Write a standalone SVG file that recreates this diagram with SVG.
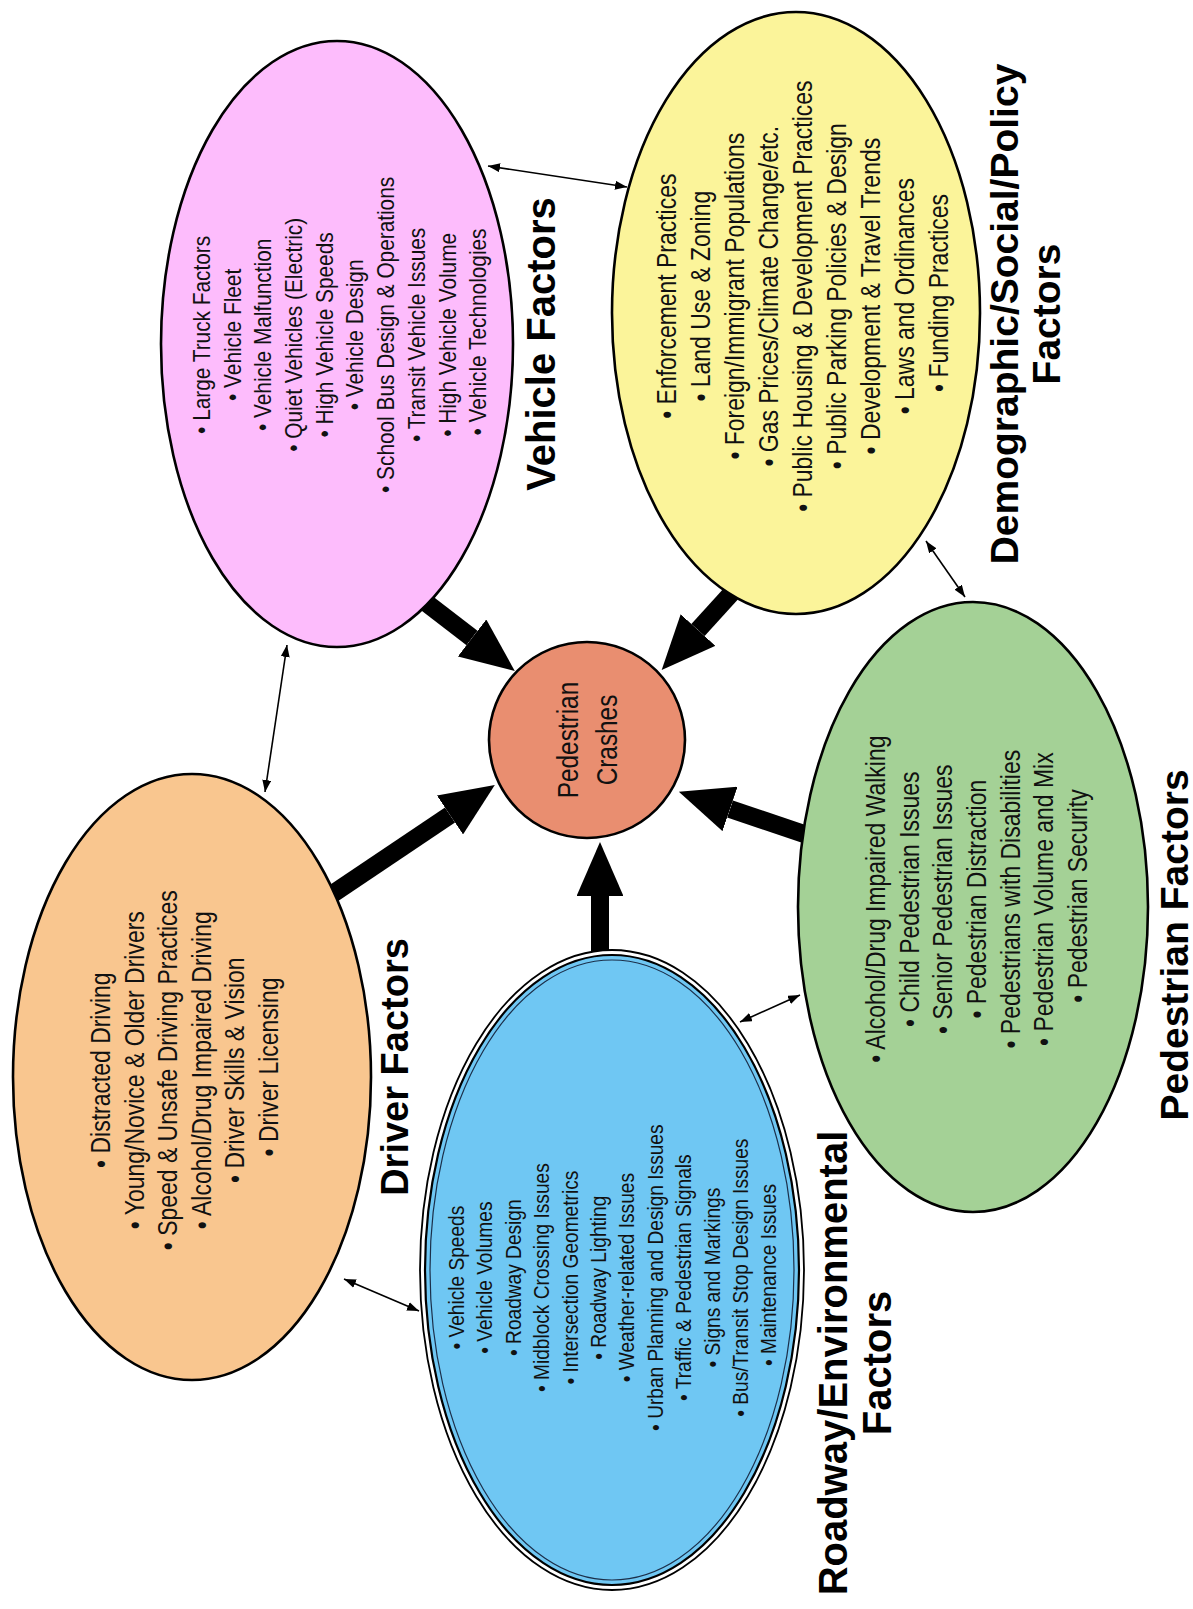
<svg xmlns="http://www.w3.org/2000/svg" width="1193" height="1609" viewBox="0 0 1193 1609">
<style>
.node{stroke:#000;stroke-width:2.6}
.it{font-family:"Liberation Sans",Arial,sans-serif;fill:#111;text-anchor:middle}
.lbl{font-family:"Liberation Sans",Arial,sans-serif;font-weight:bold;fill:#000;text-anchor:middle}
.thick{stroke:#000;stroke-width:18;fill:none;marker-end:url(#head)}
.thin{stroke:#000;stroke-width:1.6;fill:none;marker-start:url(#sh);marker-end:url(#sh)}
</style>
<defs>
<marker id="head" viewBox="0 0 3 2.6" refX="0" refY="1.3" markerWidth="3" markerHeight="2.6" markerUnits="strokeWidth" orient="auto"><path d="M0,0 L3,1.3 L0,2.6 z" fill="#000"/></marker>
<marker id="sh" viewBox="0 0 12 9" refX="12" refY="4.5" markerWidth="12" markerHeight="9" markerUnits="userSpaceOnUse" orient="auto-start-reverse"><path d="M0,0 L12,4.5 L0,9 z" fill="#000"/></marker>
</defs>
<rect width="1193" height="1609" fill="#fff"/>
<g id="connectors">
<line class="thick" x1="420" y1="598" x2="472" y2="638"/>
<line class="thick" x1="738" y1="586" x2="698" y2="630"/>
<line class="thick" x1="325" y1="899" x2="450" y2="815"/>
<line class="thick" x1="810" y1="836" x2="730" y2="809"/>
<line class="thick" x1="600" y1="962" x2="600" y2="896"/>
<line class="thin" x1="488" y1="166" x2="627" y2="187"/>
<line class="thin" x1="287" y1="645" x2="265" y2="792"/>
<line class="thin" x1="926" y1="541" x2="965" y2="597"/>
<line class="thin" x1="344" y1="1279" x2="419" y2="1311"/>
<line class="thin" x1="740" y1="1022" x2="800" y2="995"/>
</g>
<g id="vehicle">
<ellipse class="node" cx="337" cy="344" rx="176" ry="303" fill="#FDBCFC"/>
<text class="it" font-size="24.5" transform="translate(210,332) rotate(-90) scale(.85,1)">
<tspan x="0" dy="0">•  Large Truck Factors</tspan>
<tspan x="0" dy="30.7">•  Vehicle Fleet</tspan>
<tspan x="0" dy="30.7">•  Vehicle Malfunction</tspan>
<tspan x="0" dy="30.7">•  Quiet Vehicles (Electric)</tspan>
<tspan x="0" dy="30.7">•  High Vehicle Speeds</tspan>
<tspan x="0" dy="30.7">•  Vehicle Design</tspan>
<tspan x="0" dy="30.7">•  School Bus Design &amp; Operations</tspan>
<tspan x="0" dy="30.7">•  Transit Vehicle Issues</tspan>
<tspan x="0" dy="30.7">•  High Vehicle Volume</tspan>
<tspan x="0" dy="30.7">•  Vehicle Technologies</tspan>
</text>
<text class="lbl" font-size="40" transform="translate(555,344) rotate(-90)">Vehicle Factors</text>
</g>
<g id="demographic">
<ellipse class="node" cx="796" cy="313" rx="184" ry="301" fill="#FBF49A"/>
<text class="it" font-size="27" transform="translate(676,293) rotate(-90) scale(.85,1)">
<tspan x="0" dy="0">•  Enforcement Practices</tspan>
<tspan x="0" dy="34">•  Land Use &amp; Zoning</tspan>
<tspan x="0" dy="34">•  Foreign/Immigrant Populations</tspan>
<tspan x="0" dy="34">•  Gas Prices/Climate Change/etc.</tspan>
<tspan x="0" dy="34">•  Public Housing &amp; Development Practices</tspan>
<tspan x="0" dy="34">•  Public Parking Policies &amp; Design</tspan>
<tspan x="0" dy="34">•  Development &amp; Travel Trends</tspan>
<tspan x="0" dy="34">•  Laws and Ordinances</tspan>
<tspan x="0" dy="34">•  Funding Practices</tspan>
</text>
<text class="lbl" font-size="39" transform="translate(1018,314) rotate(-90)"><tspan x="0" dy="0">Demographic/Social/Policy</tspan><tspan x="0" dy="42">Factors</tspan></text>
</g>
<g id="driver">
<ellipse class="node" cx="192" cy="1077" rx="179" ry="303" fill="#F9C68F"/>
<text class="it" font-size="27" transform="translate(110,1067) rotate(-90) scale(.85,1)">
<tspan x="0" dy="0">•  Distracted Driving</tspan>
<tspan x="0" dy="33.6">•  Young/Novice &amp; Older Drivers</tspan>
<tspan x="0" dy="33.6">•  Speed &amp; Unsafe Driving Practices</tspan>
<tspan x="0" dy="33.6">•  Alcohol/Drug Impaired Driving</tspan>
<tspan x="0" dy="33.6">•  Driver Skills &amp; Vision</tspan>
<tspan x="0" dy="33.6">•  Driver Licensing</tspan>
</text>
<text class="lbl" font-size="38" transform="translate(408,1067) rotate(-90)">Driver Factors</text>
</g>
<g id="pedestrian">
<ellipse class="node" cx="973" cy="907" rx="175" ry="305" fill="#A4D196"/>
<text class="it" font-size="27" transform="translate(885,896) rotate(-90) scale(.85,1)">
<tspan x="0" dy="0">•  Alcohol/Drug Impaired Walking</tspan>
<tspan x="0" dy="33.7">•  Child Pedestrian Issues</tspan>
<tspan x="0" dy="33.7">•  Senior Pedestrian Issues</tspan>
<tspan x="0" dy="33.7">•  Pedestrian Distraction</tspan>
<tspan x="0" dy="33.7">•  Pedestrians with Disabilities</tspan>
<tspan x="0" dy="33.7">•  Pedestrian Volume and Mix</tspan>
<tspan x="0" dy="33.7">•  Pedestrian Security</tspan>
</text>
<text class="lbl" font-size="39" transform="translate(1188,945) rotate(-90)">Pedestrian Factors</text>
</g>
<g id="roadway">
<ellipse cx="612" cy="1270" rx="192" ry="320" fill="#fff" stroke="#000" stroke-width="1.8"/>
<ellipse cx="612" cy="1270" rx="187" ry="315" fill="#6FC7F3" stroke="#000" stroke-width="2.2"/>
<ellipse cx="612" cy="1270" rx="182" ry="310" fill="none" stroke="#1b2f4a" stroke-width="1.2"/>
<text class="it" font-size="22.5" transform="translate(464,1275) rotate(-90) scale(.85,1)">
<tspan x="0" dy="0">•  Vehicle Speeds</tspan>
<tspan x="0" dy="28.4">•  Vehicle Volumes</tspan>
<tspan x="0" dy="28.4">•  Roadway Design</tspan>
<tspan x="0" dy="28.4">•  Midblock Crossing Issues</tspan>
<tspan x="0" dy="28.4">•  Intersection Geometrics</tspan>
<tspan x="0" dy="28.4">•  Roadway Lighting</tspan>
<tspan x="0" dy="28.4">•  Weather-related Issues</tspan>
<tspan x="0" dy="28.4">•  Urban Planning and Design Issues</tspan>
<tspan x="0" dy="28.4">•  Traffic &amp; Pedestrian Signals</tspan>
<tspan x="0" dy="28.4">•  Signs and Markings</tspan>
<tspan x="0" dy="28.4">•  Bus/Transit Stop Design Issues</tspan>
<tspan x="0" dy="28.4">•  Maintenance Issues</tspan>
</text>
<text class="lbl" font-size="40" transform="translate(847,1363) rotate(-90)"><tspan x="0" dy="0">Roadway/Environmental</tspan><tspan x="0" dy="44">Factors</tspan></text>
</g>
<g id="crashes">
<circle class="node" cx="587" cy="740" r="98" fill="#E98E70"/>
<text class="it" font-size="29" transform="translate(578,740) rotate(-90) scale(.84,1)"><tspan x="0" dy="0">Pedestrian</tspan><tspan x="0" dy="39">Crashes</tspan></text>
</g>
</svg>
